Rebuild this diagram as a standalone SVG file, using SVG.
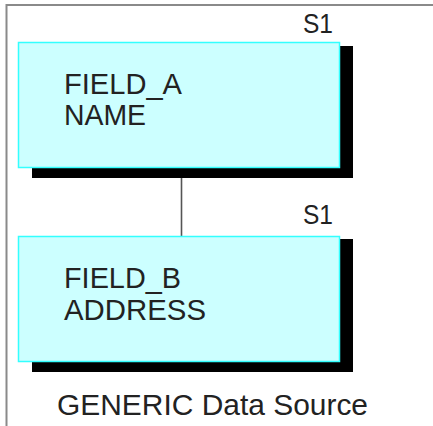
<svg xmlns="http://www.w3.org/2000/svg" width="433" height="426" viewBox="0 0 433 426">
<style>
.t{font-family:"Liberation Sans",Arial,sans-serif;fill:#222;}
.box{fill:#ccffff;stroke:#33ffff;stroke-width:1.5;}
.sh{fill:#000;}
.lab{font-size:28px;}
.fld{font-size:30px;}
</style>
<rect x="0" y="0" width="433" height="426" fill="#fff"/>
<path d="M6.5 440 V5 H440" fill="none" stroke="#8a8a8a" stroke-width="2"/>
<g id="connectors">
<line x1="181.5" y1="168" x2="181.5" y2="236" stroke="#555" stroke-width="1.6"/>
</g>
<g id="nodeA">
<rect class="sh" x="32" y="46" width="321" height="132"/>
<rect class="box" x="18.5" y="42.5" width="321" height="125"/>
<text class="t lab" x="303" y="33" textLength="30" lengthAdjust="spacingAndGlyphs">S1</text>
<text class="t fld" x="64" y="94" textLength="118" lengthAdjust="spacingAndGlyphs">FIELD_A</text>
<text class="t fld" x="64" y="125" textLength="82" lengthAdjust="spacingAndGlyphs">NAME</text>
</g>
<g id="nodeB">
<rect class="sh" x="32" y="239" width="321" height="133"/>
<rect class="box" x="18.5" y="236.5" width="321" height="125"/>
<text class="t lab" x="303" y="224" textLength="30" lengthAdjust="spacingAndGlyphs">S1</text>
<text class="t fld" x="64" y="288" textLength="117" lengthAdjust="spacingAndGlyphs">FIELD_B</text>
<text class="t fld" x="64" y="320" textLength="142" lengthAdjust="spacingAndGlyphs">ADDRESS</text>
</g>
<text class="t" x="57" y="415" font-size="30" textLength="311" lengthAdjust="spacingAndGlyphs">GENERIC Data Source</text>
</svg>
